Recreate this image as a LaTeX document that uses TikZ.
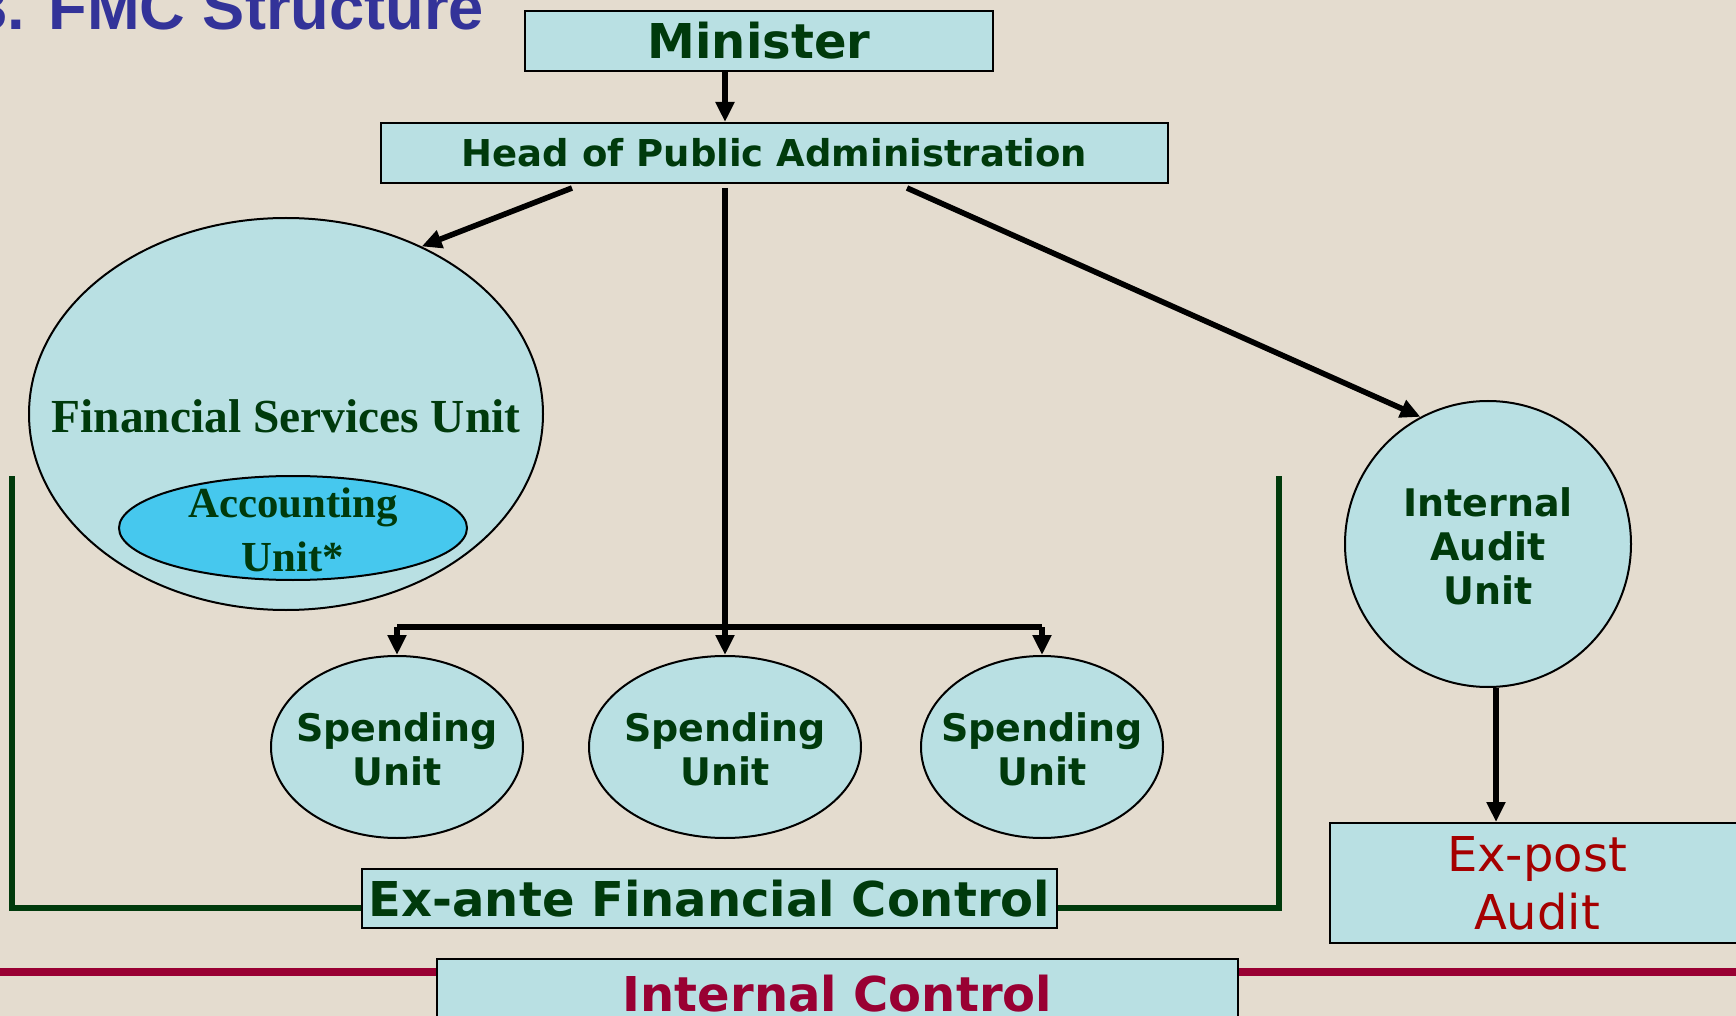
\documentclass[tikz,border=0pt]{standalone}
\usepackage{fontspec}
\setmainfont{DejaVu Sans}
\newfontfamily\seriffont{Liberation Serif}
\newfontfamily\titlefont{Liberation Sans}
\usetikzlibrary{shapes.geometric,arrows.meta,calc}
\definecolor{bgcol}{RGB}{228,220,207}
\definecolor{boxfill}{RGB}{185,224,227}
\definecolor{accfill}{RGB}{70,200,238}
\definecolor{dkgreen}{RGB}{0,58,12}
\definecolor{maroon}{RGB}{153,0,51}
\definecolor{dkred}{RGB}{165,0,0}
\definecolor{titleblue}{RGB}{51,51,153}
\tikzset{
  box/.style={rectangle, draw=black, line width=1pt, fill=boxfill, inner sep=0pt},
  oval/.style={ellipse, draw=black, line width=1pt, fill=boxfill, inner sep=0pt},
  lblbold/.style={inner sep=0pt, text=dkgreen, font=\bfseries\fontsize{19}{22}\selectfont, align=center},
  conn/.style={line width=2.8pt, draw=black},
  arr/.style={conn, -{Triangle[length=10pt,width=9pt]}},
  bracket/.style={line width=2.8pt, draw=dkgreen},
  redline/.style={line width=3.8pt, draw=maroon}
}
\begin{document}
\begin{tikzpicture}[x=0.5pt,y=-0.5pt]
\useasboundingbox (0,0) rectangle (1736,1016);
\clip (0,0) rectangle (1736,1016);
\fill[bgcol] (0,0) rectangle (1736,1016);

% title
\node[anchor=base west, inner sep=0pt, text=titleblue, font=\titlefont\bfseries\fontsize{31.6}{34}\selectfont] (title) at (-28,30) {3. FMC Structure};

% boxes
\node[box, minimum width=234pt, minimum height=30pt, text=dkgreen, font=\bfseries\fontsize{24}{28}\selectfont] (minister) at (759,41) {Minister};
\node[box, minimum width=393.5pt, minimum height=30pt, text=dkgreen, font=\bfseries\fontsize{18.5}{22}\selectfont] (head) at (774.5,153) {Head of Public Administration};

% Financial services unit
\node[oval, minimum width=257pt, minimum height=196pt] (fsu) at (286,414) {};
\node[inner sep=0pt, text=dkgreen, font=\seriffont\bfseries\fontsize{23.7}{28}\selectfont] (fsutext) at (286,416) {Financial Services Unit};
\node[ellipse, draw=black, line width=1pt, fill=accfill, inner sep=0pt, minimum width=174pt, minimum height=52pt] (acc) at (293,528) {};
\node[inner sep=0pt, text=dkgreen, font=\seriffont\bfseries\fontsize{21.4}{27}\selectfont, align=center] (acctext) at (293,530) {Accounting\\Unit*};

% spending units
\node[oval, minimum width=126pt, minimum height=91pt] (su1) at (397,747) {};
\node[lblbold] (su1t) at (397,749) {Spending\\Unit};
\node[oval, minimum width=136pt, minimum height=91pt] (su2) at (725,747) {};
\node[lblbold] (su2t) at (725,749) {Spending\\Unit};
\node[oval, minimum width=121pt, minimum height=91pt] (su3) at (1042,747) {};
\node[lblbold] (su3t) at (1042,749) {Spending\\Unit};

% internal audit
\node[circle, draw=black, line width=1pt, fill=boxfill, inner sep=0pt, minimum size=143pt] (iau) at (1488,544) {};
\node[lblbold] (iaut) at (1488,546) {Internal\\Audit\\Unit};
\node[box, minimum width=207.5pt, minimum height=60pt, text=dkred, font=\fontsize{24}{29}\selectfont, align=center] (expost) at (1537,883) {Ex-post\\Audit};

% bracket and ex-ante
\coordinate (bl) at (12,476);
\coordinate (br) at (1279,476);
\coordinate (bkt) at (0,908);
\node[box, minimum width=347.5pt, minimum height=29.5pt, text=dkgreen, font=\bfseries\fontsize{24}{28}\selectfont] (exante) at (709.5,898.5) {Ex-ante Financial Control};
\draw[bracket] (bl) -- (bl |- bkt) -- (exante.west |- bkt);
\draw[bracket] (br) -- (br |- bkt) -- (exante.east |- bkt);

% internal control
\coordinate (icl) at (0,972);
\coordinate (icr) at (1736,972);
\node[box, minimum width=400.5pt, minimum height=35pt, text=maroon, font=\bfseries\fontsize{24}{28}\selectfont] (ic) at (837.5,994) {Internal Control};
\draw[redline] (icl) -- (ic.west |- icl);
\draw[redline] (ic.east |- icr) -- (icr);

% connectors
\coordinate (trunk) at (725,0);
\coordinate (hl) at (572,188);
\coordinate (hc) at (725,188);
\coordinate (hr) at (907,188);
\coordinate (bar) at (0,627);
\coordinate (ia) at (1496,0);
\draw[arr] (trunk |- minister.south) -- (trunk |- head.north);
\draw[arr] (hl) -- (fsu.51);
\draw[arr] (hr) -- (iau.118);
\draw[arr] (hc) -- (su2.north);
\draw[conn] (su1.north |- bar) -- (su3.north |- bar);
\draw[arr] (su1.north |- bar) -- (su1.north);
\draw[arr] (su3.north |- bar) -- (su3.north);
\draw[arr] (ia |- iau.south) -- (ia |- expost.north);
\end{tikzpicture}
\end{document}
